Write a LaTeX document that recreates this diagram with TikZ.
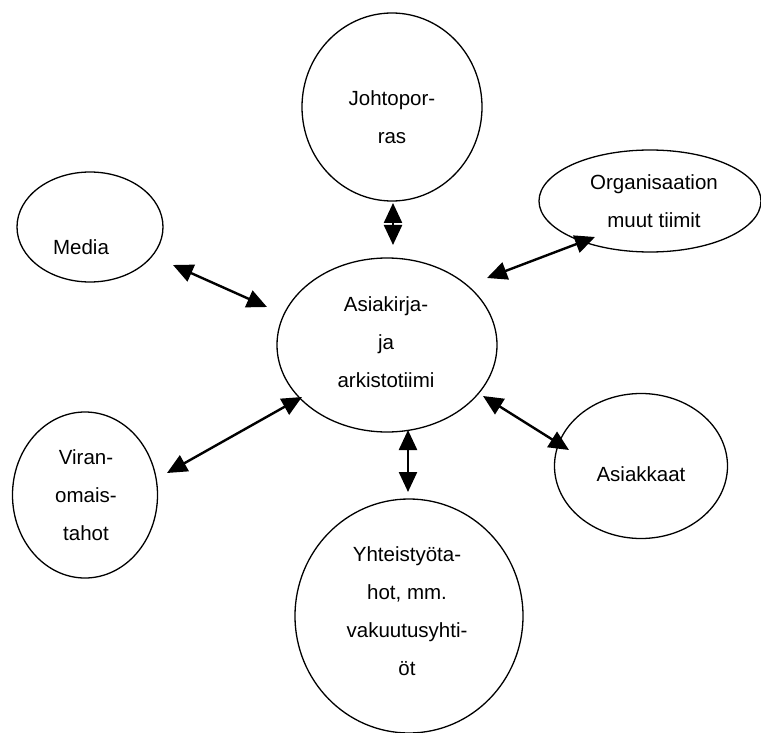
\documentclass[tikz,border=0pt]{standalone}
\usepackage{fontspec}
\setmainfont{Liberation Sans}
\usetikzlibrary{shapes.geometric,arrows.meta,calc}
\begin{document}
\begin{tikzpicture}[x=1pt, y=-1pt,
    bubble/.style={draw=black, line width=1.3pt, ellipse, inner sep=0pt},
    txt/.style={align=center, font=\fontsize{20.5}{38}\selectfont, inner sep=0pt},
    link/.style={line width=2.4pt, {Triangle[length=20pt,width=18pt]}-{Triangle[length=20pt,width=18pt]}}]
  \useasboundingbox (0,0) rectangle (761,733);
  \node[bubble, minimum width=220pt, minimum height=174pt] (hub) at (387,345) {};
  \node[bubble, minimum width=180pt, minimum height=188pt] (johto) at (392,107) {};
  \node[bubble, minimum width=146pt, minimum height=110pt] (media) at (90,227) {};
  \node[bubble, minimum width=222pt, minimum height=102pt] (org) at (650,201) {};
  \node[bubble, minimum width=145pt, minimum height=166pt] (viran) at (85,495) {};
  \node[bubble, minimum width=173pt, minimum height=145pt] (asiak) at (641,466) {};
  \node[bubble, minimum width=228pt, minimum height=234pt] (yht) at (409,616) {};
  \node[txt] (hubT) at (386,342) {Asiakirja-\\ja\\arkistotiimi};
  \node[txt] (johtoT) at (392,117) {Johtopor-\\ras};
  \node[txt] (mediaT) at (81,247) {Media};
  \node[txt] (orgT) at (654,201) {Organisaation\\muut tiimit};
  \node[txt] (viranT) at (86,495) {Viran-\\omais-\\tahot};
  \node[txt] (asiakT) at (641,474) {Asiakkaat};
  \node[txt] (yhtT) at (407,611) {Yhteistyöta-\\hot, mm.\\vakuutusyhti-\\öt};
  \draw[link] ($(johto)+(1,96)$) -- ($(hub)+(6,-100)$);
  \draw[link] ($(media)+(83,38)$) -- ($(hub)+(-120,-38)$);
  \draw[link] ($(org)+(-55,36)$) -- ($(hub)+(100,-67)$);
  \draw[link] ($(viran)+(82,-22)$) -- ($(hub)+(-85,52)$);
  \draw[link] ($(asiak)+(-72,-16)$) -- ($(hub)+(96,51)$);
  \draw[link] ($(yht)+(-1,-124)$) -- ($(hub)+(21,85)$);
\end{tikzpicture}
\end{document}
